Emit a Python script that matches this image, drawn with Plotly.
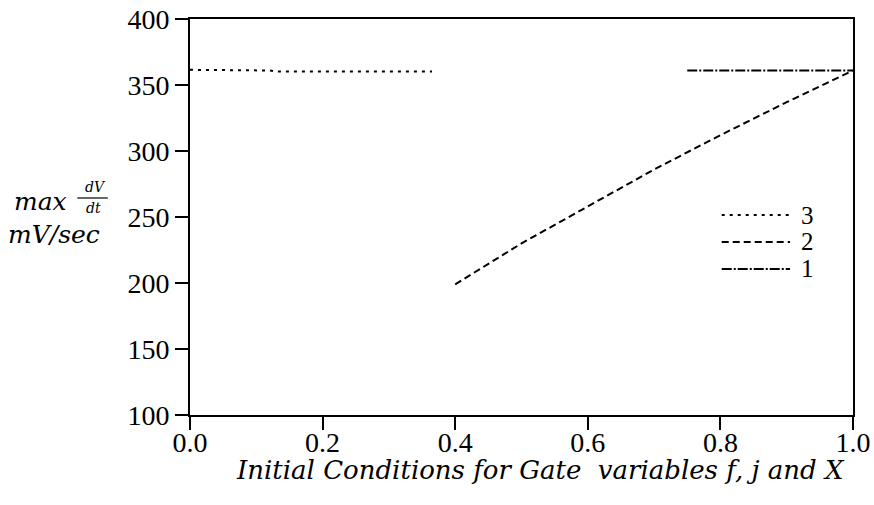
import plotly.graph_objects as go

# Data
s3_x = [0.0, 0.04, 0.08, 0.12, 0.13, 0.2, 0.25, 0.3, 0.365]
s3_y = [361.5, 361.5, 361.3, 361.0, 360.3, 360.3, 360.3, 360.3, 360.3]

s2_x = [0.4, 0.5, 0.6, 0.7, 0.8, 0.9, 1.0]
s2_y = [199, 230, 258, 286, 312, 337, 361]

s1_x = [0.75, 0.8, 0.9, 1.0]
s1_y = [361, 361, 361, 361]

legend_labels = ["3", "2", "1"]
x_ticks = [0.0, 0.2, 0.4, 0.6, 0.8, 1.0]
x_tick_text = ["0.0", "0.2", "0.4", "0.6", "0.8", "1.0"]
y_ticks = [100, 150, 200, 250, 300, 350, 400]

SERIF = "Liberation Serif"
ITAL = "DejaVu Serif"
dashes = ["3px,5px", "7px,4px", "10px,2px,2px,2px"]

fig = go.Figure()
for xs, ys, name, d in [(s3_x, s3_y, "3", dashes[0]),
                        (s2_x, s2_y, "2", dashes[1]),
                        (s1_x, s1_y, "1", dashes[2])]:
    fig.add_trace(go.Scatter(x=xs, y=ys, mode="lines", name=name,
                             line=dict(color="black", width=2, dash=d),
                             showlegend=False))

# manual legend (line samples + labels)
leg_y = [0.505, 0.437, 0.369]
for lab, yy, d in zip(legend_labels, leg_y, dashes):
    fig.add_shape(type="line", xref="paper", yref="paper",
                  x0=0.802, x1=0.905, y0=yy, y1=yy,
                  line=dict(color="black", width=2, dash=d))
    fig.add_annotation(text=lab, xref="paper", yref="paper", x=0.932, y=yy,
                       showarrow=False, font=dict(family=SERIF, size=25, color="black"),
                       xanchor="center", yanchor="middle")

# y axis label: max dV/dt, mV/sec
fig.add_annotation(text="<i>max</i>", xref="paper", yref="paper", x=-0.225, y=0.540,
                   showarrow=False, font=dict(family=ITAL, size=25, color="black"),
                   xanchor="center", yanchor="middle")
fig.add_annotation(text="<i>dV</i>", xref="paper", yref="paper", x=-0.143, y=0.576,
                   showarrow=False, font=dict(family=ITAL, size=14, color="black"),
                   xanchor="center", yanchor="middle")
fig.add_shape(type="line", xref="paper", yref="paper", x0=-0.170, x1=-0.124,
              y0=0.548, y1=0.548, line=dict(color="black", width=1.2))
fig.add_annotation(text="<i>dt</i>", xref="paper", yref="paper", x=-0.146, y=0.522,
                   showarrow=False, font=dict(family=ITAL, size=14, color="black"),
                   xanchor="center", yanchor="middle")
fig.add_annotation(text="<i>mV/sec</i>", xref="paper", yref="paper", x=-0.205, y=0.455,
                   showarrow=False, font=dict(family=ITAL, size=25, color="black"),
                   xanchor="center", yanchor="middle")

# x axis title
fig.add_annotation(text="<i>Initial Conditions for Gate&nbsp; variables f, j and X</i>",
                   xref="paper", yref="paper", x=0.528, y=-0.139,
                   showarrow=False, font=dict(family=ITAL, size=26, color="black"),
                   xanchor="center", yanchor="middle")

fig.update_layout(
    width=874, height=505,
    margin=dict(l=190, r=21, t=19, b=90, autoexpand=False),
    paper_bgcolor="white", plot_bgcolor="white",
    font=dict(family=SERIF, size=28, color="black"),
    showlegend=False,
)
fig.update_xaxes(range=[0, 1], tickvals=x_ticks, ticktext=x_tick_text,
                 showgrid=False, zeroline=False, showline=True, linecolor="black",
                 linewidth=2, mirror=True, ticks="outside", ticklen=13,
                 tickwidth=2, tickcolor="black", automargin=False,
                 ticklabelstandoff=-12, tickfont=dict(family=SERIF, size=28))
fig.update_yaxes(range=[100, 400], tickvals=y_ticks,
                 showgrid=False, zeroline=False, showline=True, linecolor="black",
                 linewidth=2, mirror=True, ticks="outside", ticklen=13,
                 tickwidth=2, tickcolor="black", automargin=False,
                 tickfont=dict(family=SERIF, size=28))

fig.write_html("out.html")
